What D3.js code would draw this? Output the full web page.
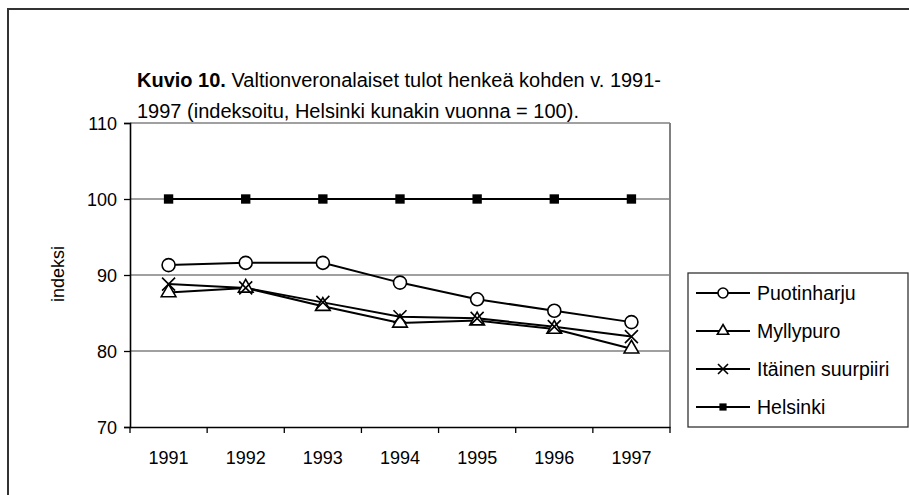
<!DOCTYPE html>
<html>
<head>
<meta charset="utf-8">
<script src="https://cdn.jsdelivr.net/npm/d3@7"></script>
<style>
  body { margin: 0; background: #fff; }
  text { font-family: "Liberation Sans", Arial, sans-serif; fill: #000; }
</style>
</head>
<body>
<div class="chart"></div>
<script>
// data
const years = ["1991", "1992", "1993", "1994", "1995", "1996", "1997"];
const puotinharju = [91.3, 91.6, 91.6, 89.0, 86.8, 85.3, 83.8];
const myllypuro   = [87.7, 88.3, 85.9, 83.7, 84.0, 82.9, 80.3];
const itainen     = [88.8, 88.3, 86.4, 84.5, 84.3, 83.2, 81.9];
const helsinki    = [100, 100, 100, 100, 100, 100, 100];
const yTicks = [70, 80, 90, 100, 110];

const series = [
    {name: "Puotinharju", values: puotinharju, marker: "circle"},
    {name: "Myllypuro", values: myllypuro, marker: "triangle"},
    {name: "Itäinen suurpiiri", values: itainen, marker: "cross"},
    {name: "Helsinki", values: helsinki, marker: "square"}
];

const W = 909, H = 495;
const plot = {left: 130, right: 670, top: 123, bottom: 427};

const svg = d3.select(".chart").append("svg")
    .attr("width", W)
    .attr("height", H);

// outer frame (runs off the right and bottom edges)
svg.append("rect")
    .attr("x", 8).attr("y", 9)
    .attr("width", 960).attr("height", 560)
    .attr("fill", "none")
    .attr("stroke", "#333")
    .attr("stroke-width", 2);

// scales
const x = d3.scaleBand().domain(years).range([plot.left, plot.right]);
const y = d3.scaleLinear().domain([70, 110]).range([plot.bottom, plot.top]);

// gridlines
svg.append("g")
    .selectAll("line")
    .data(yTicks.slice(1))
    .join("line")
    .attr("x1", plot.left).attr("x2", plot.right)
    .attr("y1", d => y(d)).attr("y2", d => y(d))
    .attr("stroke", "#808080")
    .attr("stroke-width", 1.3);

// right edge of plot area
svg.append("line")
    .attr("x1", plot.right).attr("x2", plot.right)
    .attr("y1", plot.top).attr("y2", plot.bottom)
    .attr("stroke", "#808080")
    .attr("stroke-width", 2);

// axes
const yAxis = d3.axisLeft(y).tickValues(yTicks).tickSize(6).tickPadding(7);
const yAxisG = svg.append("g")
    .attr("transform", `translate(${plot.left},0)`)
    .call(yAxis);

const xAxis = d3.axisBottom(x).tickSize(0).tickPadding(24);
const xAxisG = svg.append("g")
    .attr("transform", `translate(0,${plot.bottom})`)
    .call(xAxis);

// category boundary ticks
xAxisG.selectAll(".bound")
    .data(d3.range(years.length + 1))
    .join("line")
    .attr("class", "bound")
    .attr("x1", i => plot.left + i * x.step())
    .attr("x2", i => plot.left + i * x.step())
    .attr("y1", 0).attr("y2", 6)
    .attr("stroke", "#000")
    .attr("stroke-width", 1.3);

[yAxisG, xAxisG].forEach(g => {
    g.select(".domain").attr("stroke", "#000").attr("stroke-width", 1.6);
    g.selectAll(".tick line").attr("stroke", "#000").attr("stroke-width", 1.3);
    g.selectAll(".tick text")
        .attr("font-size", 18)
        .attr("font-family", "'Liberation Sans', Arial, sans-serif")
        .attr("fill", "#000");
});
yAxisG.selectAll(".tick text").attr("dy", "0.34em");

// axis title
svg.append("text")
    .attr("transform", `translate(64,${(plot.top + plot.bottom) / 2 - 1}) rotate(-90)`)
    .attr("text-anchor", "middle")
    .attr("font-size", 18)
    .text("indeksi");

// chart title
const title = svg.append("text")
    .attr("x", 137)
    .attr("y", 87)
    .attr("font-size", 20);
title.append("tspan").attr("font-weight", "bold").text("Kuvio 10.");
title.append("tspan").text(" Valtionveronalaiset tulot henkeä kohden v. 1991-");
svg.append("text")
    .attr("x", 137)
    .attr("y", 118)
    .attr("font-size", 20)
    .text("1997 (indeksoitu, Helsinki kunakin vuonna = 100).");

// markers
function drawMarker(g, type, size) {
    if (type === "circle") {
        g.append("circle").attr("r", size * 0.5)
            .attr("fill", "#fff").attr("stroke", "#000").attr("stroke-width", 1.6);
    } else if (type === "triangle") {
        g.append("path").attr("d", d3.symbol(d3.symbolTriangle, size * size * 0.55)())
            .attr("fill", "#fff").attr("stroke", "#000").attr("stroke-width", 1.6);
    } else if (type === "cross") {
        const h = size * 0.5;
        g.append("path").attr("d", `M${-h},${-h}L${h},${h}M${-h},${h}L${h},${-h}`)
            .attr("fill", "none").attr("stroke", "#000").attr("stroke-width", 1.6);
    } else {
        const h = size * 0.36;
        g.append("rect").attr("x", -h).attr("y", -h)
            .attr("width", 2 * h).attr("height", 2 * h)
            .attr("fill", "#000");
    }
}

const line = d3.line()
    .x((d, i) => x(years[i]) + x.bandwidth() / 2)
    .y(d => y(d));

series.forEach(s => {
    svg.append("path")
        .datum(s.values)
        .attr("d", line)
        .attr("fill", "none")
        .attr("stroke", "#000")
        .attr("stroke-width", 2);
});

series.forEach(s => {
    s.values.forEach((v, i) => {
        const g = svg.append("g")
            .attr("transform", `translate(${x(years[i]) + x.bandwidth() / 2},${y(v)})`);
        drawMarker(g, s.marker, 13);
    });
});

// legend
const legend = svg.append("g").attr("transform", "translate(688,273)");
legend.append("rect")
    .attr("width", 220).attr("height", 154)
    .attr("fill", "#fff")
    .attr("stroke", "#333")
    .attr("stroke-width", 1.3);

const item = legend.selectAll(".item")
    .data(series)
    .join("g")
    .attr("class", "item")
    .attr("transform", (d, i) => `translate(0,${20 + i * 38})`);

item.append("line")
    .attr("x1", 8).attr("x2", 62)
    .attr("stroke", "#000").attr("stroke-width", 2);
item.each(function(d) {
    const g = d3.select(this).append("g").attr("transform", "translate(35,0)");
    drawMarker(g, d.marker, 10);
});
item.append("text")
    .attr("x", 69)
    .attr("dy", "0.35em")
    .attr("font-size", 19.5)
    .text(d => d.name);
</script>
</body>
</html>
